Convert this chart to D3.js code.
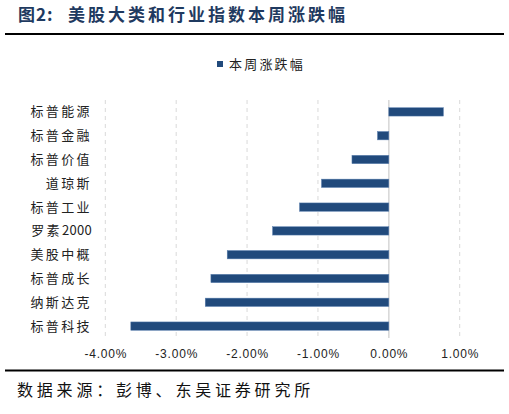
<!DOCTYPE html>
<html><head><meta charset="utf-8">
<script src="https://cdn.jsdelivr.net/npm/d3@7"></script>
<style>
html,body{margin:0;padding:0;background:#fff;}
svg{display:block;}
</style></head>
<body>
<svg id="chart" width="509" height="414"></svg>
<script>
const categories = ['标普能源','标普金融','标普价值','道琼斯','标普工业','罗素2000','美股中概','标普成长','纳斯达克','标普科技'];
const values = [0.77, -0.16, -0.52, -0.95, -1.26, -1.64, -2.28, -2.51, -2.59, -3.64];
const tickValues = [-4, -3, -2, -1, 0, 1];
const tickLabels = ['-4.00%', '-3.00%', '-2.00%', '-1.00%', '0.00%', '1.00%'];
const seriesName = '本周涨跌幅';
const titleText = '图2:';
const titleRest = '美股大类和行业指数本周涨跌幅';
const sourceText = '数据来源：彭博、东吴证券研究所';

const svg = d3.select('#chart');
const cjk = '"Noto Sans CJK SC", "Noto Sans", sans-serif';
const barColor = '#214a7c';

// Title
svg.append('text').attr('x', 18).attr('y', 21)
  .attr('font-family', cjk).attr('font-weight', 700).attr('font-size', 17)
  .attr('fill', '#1f3a60').attr('letter-spacing', 1).text(titleText);
svg.append('text').attr('x', 68).attr('y', 21)
  .attr('font-family', cjk).attr('font-weight', 700).attr('font-size', 17)
  .attr('fill', '#1f3a60').attr('letter-spacing', 3).text(titleRest);
svg.append('line').attr('x1', 5).attr('x2', 504).attr('y1', 34).attr('y2', 34)
  .attr('stroke', '#000').attr('stroke-width', 2);

// Scales
const x = d3.scaleLinear().domain([-4, 1]).range([105.3, 459.7]);
const y = d3.scaleBand().domain(categories).range([100, 338]).paddingInner(0.65).paddingOuter(0.325);

// Legend
svg.append('rect').attr('x', 217).attr('y', 61).attr('width', 6).attr('height', 6).attr('fill', barColor);
svg.append('text').attr('x', 229).attr('y', 68.5)
  .attr('font-family', cjk).attr('font-size', 13).attr('letter-spacing', 2.2)
  .attr('fill', '#222').text(seriesName);

// Gridlines
const grid = svg.append('g');
grid.selectAll('line').data(tickValues).join('line')
  .attr('x1', d => x(d)).attr('x2', d => x(d))
  .attr('y1', 100).attr('y2', 338)
  .attr('stroke', '#d9d9d9')
  .attr('stroke-width', d => d === 0 ? 1.6 : 1)
  .attr('stroke-dasharray', d => d === 0 ? null : '4,4');

// Bars
svg.append('g').selectAll('rect').data(categories).join('rect')
  .attr('x', (d, i) => x(Math.min(0, values[i])))
  .attr('y', d => y(d))
  .attr('width', (d, i) => Math.abs(x(values[i]) - x(0)))
  .attr('height', y.bandwidth())
  .attr('fill', barColor)
  .attr('stroke', '#5a7fae').attr('stroke-width', 0.5);

// Category labels (CJK characters spaced, digits tight)
const lab = svg.append('g').selectAll('text').data(categories).join('text')
  .attr('x', 92).attr('y', d => y(d) + y.bandwidth() / 2)
  .attr('dy', '0.35em').attr('text-anchor', 'end')
  .attr('font-family', cjk).attr('font-size', 13)
  .attr('fill', '#222');
lab.each(function(d) {
  const parts = d.match(/[0-9]+|[^0-9]+/g);
  const t = d3.select(this);
  parts.forEach((p, k) => {
    const isDigit = /^[0-9]+$/.test(p);
    const last = k === parts.length - 1;
    t.append('tspan').attr('letter-spacing', isDigit ? 0.3 : 2.4)
      .text(p);
  });
});

// X axis
const xAxis = d3.axisBottom(x).tickValues(tickValues)
  .tickFormat((d, i) => tickLabels[i]).tickSize(0).tickPadding(0);
const ax = svg.append('g').attr('transform', 'translate(0,349)').call(xAxis);
ax.select('.domain').remove();
ax.selectAll('text').attr('font-family', '"Liberation Sans", Arial, sans-serif')
  .attr('font-size', 12).attr('fill', '#222').attr('letter-spacing', 0.8);

// Bottom rule and source
svg.append('line').attr('x1', 5).attr('x2', 504).attr('y1', 370.5).attr('y2', 370.5)
  .attr('stroke', '#000').attr('stroke-width', 2);
svg.append('text').attr('x', 17).attr('y', 396)
  .attr('font-family', cjk).attr('font-size', 16).attr('letter-spacing', 3.8)
  .attr('fill', '#111').text(sourceText);
</script>
</body></html>
